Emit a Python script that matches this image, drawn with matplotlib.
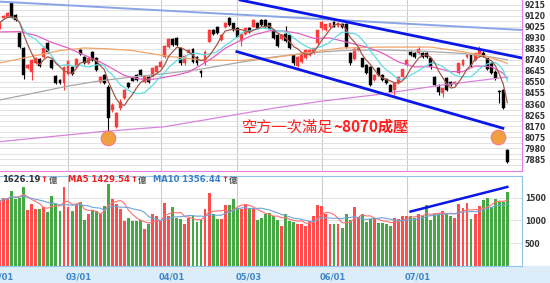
import numpy as np
import pandas as pd
import matplotlib
matplotlib.use("Agg")
import matplotlib.pyplot as plt
from matplotlib.patches import Rectangle

plt.rcParams['font.family'] = ['DejaVu Sans', 'Noto Sans CJK TC']

# daily candles (index 0 = first visible bar)
opens = [
    9014, 9100, 9109, 9229, 9126, 8971, 8842, 8670, 8636, 8713,
    8748, 8765, 8885, 8739, 8601, 8567, 8541, 8619, 8679, 8679,
    8825, 8765, 8713, 8808, 8756, 8550, 8610, 8510, 8309, 8166,
    8323, 8409, 8538, 8581, 8610, 8653, 8553, 8590, 8601, 8638,
    8682, 8762, 8854, 8917, 8925, 8839, 8710, 8796, 8831, 8762,
    8640, 8710, 8897, 8997, 9020, 8911, 9020, 9097, 9054, 9011,
    8905, 8963, 9011, 9026, 9060, 9083, 9083, 9054, 8997, 8954,
    8917, 8960, 8950, 8780, 8685, 8725, 8755, 8780, 8800, 8882,
    9010, 9000, 9025, 9065, 9030, 9050, 9049, 8796, 8745, 8825,
    8753, 8696, 8682, 8567, 8667, 8610, 8573, 8524, 8481, 8538,
    8596, 8696, 8811, 8796, 8796, 8802, 8800, 8753, 8596, 8510,
    8458, 8581, 8553, 8530, 8624, 8696, 8768, 8782, 8739, 8773,
    8800, 8753, 8710, 8639, 8475, 8481, 7965]
highs = [
    9065, 9125, 9150, 9240, 9135, 8980, 8850, 8705, 8745, 8765,
    8755, 8860, 8895, 8750, 8610, 8575, 8685, 8740, 8690, 8760,
    8835, 8775, 8765, 8815, 8765, 8600, 8620, 8520, 8365, 8295,
    8400, 8490, 8550, 8595, 8620, 8665, 8610, 8600, 8675, 8695,
    8735, 8865, 8925, 8930, 8935, 8845, 8780, 8830, 8840, 8770,
    8655, 8825, 9005, 9005, 9030, 8960, 9065, 9110, 9060, 9020,
    8970, 9015, 9020, 9090, 9070, 9095, 9090, 9060, 9005, 8960,
    8960, 9030, 8960, 8790, 8775, 8800, 8830, 8830, 8845, 9000,
    9075, 9050, 9060, 9075, 9065, 9060, 9060, 8810, 8845, 8850,
    8760, 8705, 8690, 8615, 8675, 8620, 8580, 8530, 8545, 8600,
    8665, 8745, 8820, 8805, 8860, 8810, 8810, 8760, 8605, 8530,
    8500, 8590, 8560, 8560, 8715, 8745, 8790, 8790, 8800, 8860,
    8815, 8760, 8715, 8650, 8481, 8490, 7970]
lows = [
    9005, 9095, 9105, 9100, 9075, 8845, 8576, 8660, 8567, 8705,
    8680, 8755, 8800, 8660, 8535, 8535, 8481, 8610, 8610, 8670,
    8785, 8705, 8705, 8730, 8640, 8540, 8530, 8070, 8295, 8150,
    8310, 8400, 8495, 8555, 8560, 8605, 8545, 8545, 8595, 8630,
    8675, 8755, 8845, 8860, 8860, 8700, 8700, 8790, 8715, 8700,
    8595, 8700, 8890, 8950, 8960, 8900, 9010, 9035, 8990, 8935,
    8860, 8955, 8970, 9020, 9005, 9035, 9020, 8995, 8920, 8850,
    8910, 8890, 8830, 8700, 8675, 8715, 8745, 8770, 8790, 8870,
    9000, 8990, 9015, 9020, 9020, 9010, 8845, 8700, 8735, 8815,
    8675, 8615, 8515, 8555, 8600, 8560, 8530, 8460, 8440, 8530,
    8590, 8690, 8775, 8760, 8790, 8760, 8755, 8660, 8515, 8440,
    8424, 8470, 8515, 8520, 8615, 8690, 8760, 8680, 8730, 8765,
    8765, 8650, 8615, 8570, 8366, 8315, 7850]
closes = [
    9057, 9117, 9143, 9109, 9083, 8851, 8610, 8696, 8739, 8756,
    8687, 8842, 8808, 8670, 8541, 8541, 8679, 8730, 8619, 8748,
    8791, 8713, 8756, 8739, 8653, 8593, 8541, 8240, 8352, 8286,
    8381, 8481, 8504, 8561, 8567, 8610, 8601, 8553, 8667, 8687,
    8725, 8859, 8917, 8868, 8868, 8710, 8773, 8825, 8725, 8710,
    8630, 8810, 8997, 8960, 8970, 8954, 9060, 9040, 8997, 8940,
    8963, 9011, 8978, 9083, 9011, 9040, 9026, 9003, 8925, 8859,
    8954, 8900, 8840, 8715, 8768, 8795, 8825, 8825, 8840, 8997,
    9068, 9045, 9055, 9025, 9060, 9020, 8854, 8710, 8835, 8840,
    8682, 8624, 8524, 8610, 8610, 8567, 8538, 8467, 8538, 8596,
    8659, 8739, 8782, 8768, 8831, 8768, 8765, 8682, 8524, 8467,
    8495, 8481, 8524, 8550, 8710, 8739, 8782, 8687, 8796, 8825,
    8770, 8659, 8624, 8581, 8465, 8330, 7860]
volumes = [
    1430, 1490, 1500, 1650, 1480, 1500, 1735, 1225, 1355, 1260,
    1245, 1295, 1195, 1530, 1355, 1200, 1735, 1295, 1200, 1355,
    1400, 1005, 1135, 1225, 1210, 1135, 1310, 1810, 1464, 1355,
    1260, 989, 1062, 989, 989, 1004, 807, 916, 1135, 1099,
    989, 1391, 1099, 1296, 1062, 1026, 931, 1062, 1099, 975,
    1026, 1245, 1611, 1135, 1026, 1026, 1340, 1340, 1464, 1282,
    1260, 1369, 1282, 1282, 1004, 1062, 1135, 1172, 1099, 1004,
    880, 1150, 989, 975, 931, 916, 880, 989, 1099, 1340,
    1326, 1135, 931, 916, 931, 829, 1135, 1004, 1296, 1077,
    1135, 975, 1026, 1048, 953, 953, 931, 880, 1062, 1026,
    1099, 1099, 1099, 1062, 1150, 1099, 1340, 1004, 1150, 1172,
    1208, 1172, 1099, 1062, 1355, 1282, 1391, 1040, 1135, 1318,
    1443, 1501, 1296, 1464, 1413, 1413, 1626]

# longer moving averages at a few bars
ma20_idx = [0, 5, 9, 13, 17, 21, 25, 28, 31, 34, 37, 40, 44, 47, 50, 53, 56, 59,
            63, 67, 70, 74, 78, 82, 86, 91, 95, 99, 103, 107, 112, 115, 118, 122, 125, 126]
ma20_val = [8980, 8983, 8950, 8890, 8842, 8782, 8722, 8665, 8605, 8580, 8567, 8584,
            8610, 8636, 8696, 8760, 8840, 8894, 8954, 8990, 8990, 8970, 8925, 8928,
            8894, 8851, 8799, 8722, 8679, 8682, 8639, 8639, 8687, 8682, 8624, 8581]
ma60_idx = [0, 8, 15, 21, 27, 33, 42, 50, 60, 68, 76, 85, 95, 101, 107, 115, 121, 126]
ma60_val = [8713, 8770, 8820, 8842, 8835, 8820, 8770, 8739, 8735, 8760, 8800, 8842,
            8850, 8850, 8850, 8810, 8770, 8710]
ma120_idx = [0, 8, 17, 25, 33, 42, 50, 59, 68, 77, 85, 95, 105, 115, 121, 126]
ma120_val = [8395, 8450, 8515, 8560, 8593, 8625, 8660, 8715, 8765, 8800, 8820, 8825,
             8815, 8795, 8770, 8740]
ma240_idx = [0, 25, 41, 68, 80, 93, 110, 126]
ma240_val = [8036, 8122, 8165, 8324, 8385, 8438, 8524, 8592]

# hand-drawn lines and marks
light_line_idx, light_line_val = [0.12, 129.65], [9241, 8997]
upper_line_idx, upper_line_val = [59.7, 129.65], [9255, 8756]
lower_line_idx, lower_line_val = [58.9, 124.9], [8811, 8152]
vol_line_idx, vol_line_val = [102, 126], [1195, 1735]
circle_idx, circle_val = [27, 123.8], [8071, 8074]

price_ticks = [9215, 9120, 9025, 8930, 8835, 8740, 8645, 8550, 8455, 8360,
               8265, 8170, 8075, 7980, 7885]
vol_ticks = [500, 1000, 1500]
month_pos = [-2.4, 17, 40, 59, 80, 101]
month_lbl = ['02/01', '03/01', '04/01', '05/03', '06/01', '07/01']
vol_last, vol_ma5, vol_ma10 = 1626.19, 1429.54, 1356.44

df = pd.DataFrame({'o': opens, 'h': highs, 'l': lows, 'c': closes, 'v': volumes})
df['ma5'] = df.c.rolling(5, min_periods=1).mean()
df['ma10'] = df.c.rolling(10, min_periods=1).mean()
df['vma5'] = df.v.rolling(5, min_periods=1).mean()
df['vma10'] = df.v.rolling(10, min_periods=1).mean()
x = np.arange(len(df))
up = df.c >= df.o

W, H = 550, 283


def px_box(x0, y0, x1, y1):
    return [x0 / W, 1 - y1 / H, (x1 - x0) / W, (y1 - y0) / H]


fig = plt.figure(figsize=(W / 100, H / 100), dpi=100)
fig.patches.append(Rectangle((0, 0), 1, 17 / H, transform=fig.transFigure,
                             color='#dcedf9', zorder=-5))
ax = fig.add_axes(px_box(0, 0, 522, 171))
axv = fig.add_axes(px_box(0, 176, 522, 266))

# price panel
ax.set_xlim(0.12, 129.65)
ax.set_ylim(7784, 9255)
ax.set_yticks(price_ticks)
ax.set_yticks([p - 47.5 for p in price_ticks], minor=True)
ax.yaxis.tick_right()
ax.tick_params(axis='y', which='both', length=0, pad=2, labelsize=5.5,
               labelcolor='#333333')
for lbl in ax.get_yticklabels():
    lbl.set_fontweight('bold')
ax.set_xticks([])
ax.grid(axis='y', which='both', color='#dddddd', lw=0.6)
ax.set_axisbelow(True)
for s in ['top', 'left']:
    ax.spines[s].set_visible(False)
for s in ['right', 'bottom']:
    ax.spines[s].set_color('#e77fe3')
for m in month_pos[1:]:
    ax.axvline(m, color='#cccccc', lw=0.8, zorder=0)

colors = np.where(up, '#ff3b3b', '#000000')
body_lo = np.minimum(df.o, df.c)
body_h = np.maximum(np.abs(df.c - df.o), 6)
ax.vlines(x, df.l, df.h, colors=colors, lw=0.8, zorder=2)
ax.bar(x, body_h, bottom=body_lo, width=0.72, color=colors, edgecolor=colors,
       lw=0.3, zorder=3)

ax.plot(ma240_idx, ma240_val, color='#d884dc', lw=0.9, zorder=4)
ax.plot(ma120_idx, ma120_val, color='#a8a8a8', lw=0.9, zorder=4)
ax.plot(ma60_idx, ma60_val, color='#f4a468', lw=0.9, zorder=4)
ax.plot(ma20_idx, ma20_val, color='#e45fc4', lw=0.9, zorder=4)
ax.plot(x, df.ma10, color='#5fdde6', lw=0.9, zorder=4)
ax.plot(x, df.ma5, color='#a4584a', lw=0.9, zorder=4)

ax.plot(light_line_idx, light_line_val, color='#8aa5e6', lw=1.4, zorder=5)
ax.plot(upper_line_idx, upper_line_val, color='#0b16e8', lw=2, zorder=5)
ax.plot(lower_line_idx, lower_line_val, color='#0b16e8', lw=2, zorder=5)
ax.scatter(circle_idx, circle_val, s=110, color='#f0a040', edgecolors='#f07a8a',
           lw=0.8, zorder=6)

ax.text(60.2, 8163, '空方一次滿足', fontsize=11, color='#ff1f1f',
        family='Noto Sans CJK TC', va='center', zorder=7)
ax.annotate('~8070成壓', xy=(60.2, 8163), xytext=(66, 0), textcoords='offset points',
            fontsize=11, fontweight='bold', color='#ff1f1f',
            family='Noto Sans CJK TC', va='center', zorder=7)

# volume panel
axv.set_xlim(0.12, 129.65)
axv.set_ylim(0, 1975)
axv.set_yticks(vol_ticks)
axv.yaxis.tick_right()
axv.tick_params(axis='y', length=0, pad=2, labelsize=5.5, labelcolor='#333333')
for lbl in axv.get_yticklabels():
    lbl.set_fontweight('bold')
axv.set_xticks([])
axv.grid(axis='y', color='#dddddd', lw=0.6)
axv.set_axisbelow(True)
axv.spines['left'].set_visible(False)
for s in ['right', 'top', 'bottom']:
    axv.spines[s].set_color('#8ec5ea')
for m in month_pos[1:]:
    axv.axvline(m, color='#cccccc', lw=0.8, zorder=0)

vcolors = np.where(up, '#ff4d4d', '#45a845')
axv.bar(x, df.v, width=0.72, color=vcolors, zorder=2)
axv.plot(x, df.vma5, color='#ff7070', lw=0.8, zorder=3)
axv.plot(x, df.vma10, color='#6fa4d8', lw=0.8, zorder=3)
axv.plot(vol_line_idx, vol_line_val, color='#0b16e8', lw=1.8, zorder=4)

# month labels, left-aligned on the grid line
for m, lbl in zip(month_pos, month_lbl):
    xf = (m - 0.5 - 0.12) / (129.65 - 0.12) * 522 / W
    fig.text(xf, 1 - 276.5 / H, lbl, ha='left', va='center', fontsize=6,
             fontweight='bold', color='#3f86c8', zorder=10)

# volume legend, pieces laid out one after the other
renderer = fig.canvas.get_renderer()
yl = 1 - 180 / H
groups = [
    (2, [('%.2f' % vol_last, '#333333'), ('↑', '#ff2020'), ('億', '#555555')]),
    (68, [('MA5 %.2f' % vol_ma5, '#ee2222'), ('↑', '#ff2020'), ('億', '#555555')]),
    (153, [('MA10 %.2f' % vol_ma10, '#3b7fc4'), ('↑', '#ff2020'), ('億', '#555555')]),
]
for px, pieces in groups:
    for txt, col in pieces:
        t = fig.text(px / W, yl, txt, ha='left', va='center', fontsize=6,
                     fontweight='bold', color=col, zorder=10)
        px = t.get_window_extent(renderer).x1 + 0.5

fig.savefig('out.png', dpi=100, facecolor='white')
